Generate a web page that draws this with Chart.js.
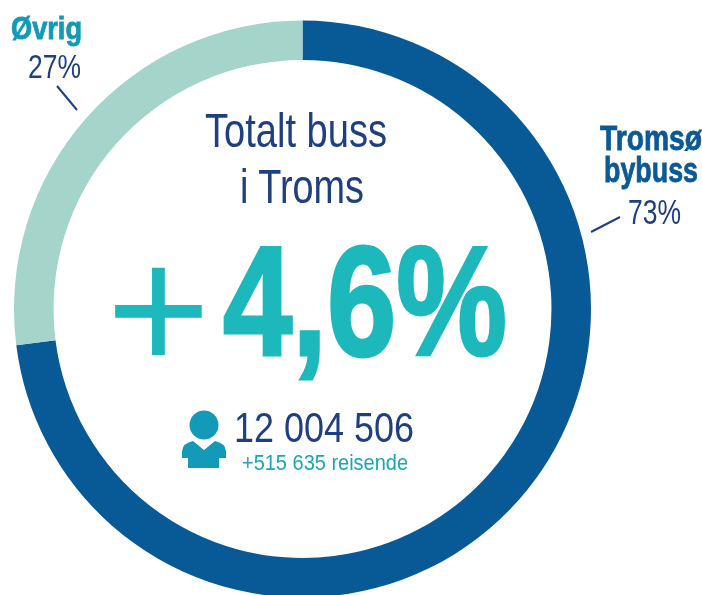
<!DOCTYPE html>
<html lang="no">
<head>
<meta charset="utf-8">
<title>Totalt buss i Troms</title>
<style>
html,body{margin:0;padding:0;width:702px;height:595px;overflow:hidden;background:#fff}
#stage{position:relative;width:702px;height:595px;overflow:hidden}
#wrap{position:absolute;left:0;top:0;width:605px;height:618px}
canvas{display:block}
.t{position:absolute;white-space:nowrap;line-height:1;font-family:"Liberation Sans",Arial,sans-serif;transform-origin:left top}
svg{position:absolute;left:0;top:0}
</style>
</head>
<body>
<div id="stage">
<div id="wrap"><canvas id="c" width="605" height="618"></canvas></div>
<svg width="702" height="595" aria-hidden="true">
<line x1="57" y1="86" x2="77" y2="110" stroke="#1e3f80" stroke-width="2"/>
<line x1="591" y1="232" x2="620" y2="217" stroke="#1e3f80" stroke-width="2"/>
<circle cx="204" cy="425" r="14.5" fill="#129ab8"/>
<path d="M193 441 L204 450 L215 441 Q225 443 226 451 L226 458 L219 458 L219 468 L188 468 L188 458 L182 458 L182 451 Q183 443 193 441 Z" fill="#129ab8"/>
</svg>
</div>
<script src="https://cdn.jsdelivr.net/npm/chart.js@4"></script>
<script>
const categories = ["Tromsø bybuss", "Øvrig"];
const shareValues = [73, 27];
const sliceColors = ["#075a96", "#a4d4ca"];

// text, left, baseline, width, font size, weight, colour, stroke
const textLabels = [
  ["Øvrig", 11, 39, 71, 31, 700, "#129ab8", 0.8],
  ["27%", 28, 78, 53, 34, 400, "#1e3f80", 0],
  ["Tromsø", 600, 150, 102, 35, 700, "#0b5a96", 0.8],
  ["bybuss", 604, 182, 94, 35, 700, "#0b5a96", 0.8],
  ["73%", 628, 224, 53, 35, 400, "#1e3f80", 0],
  ["Totalt buss", 205, 147, 182, 49, 400, "#1e3f80", 0],
  ["i Troms", 240, 203, 124, 49, 400, "#1e3f80", 0],
  ["12 004 506", 234, 442, 180, 43, 400, "#1e3f80", 0],
  ["+515 635 reisende", 242, 471, 166, 22, 400, "#1aa5b8", 0]
];
const headlineSign = "+";
const headlineValue = "4,6%";

new Chart(document.getElementById("c"), {
  type: "doughnut",
  data: {
    labels: categories,
    datasets: [{ data: shareValues, backgroundColor: sliceColors, borderWidth: 0 }]
  },
  options: {
    responsive: false,
    animation: false,
    radius: 288.5,
    cutout: "86.3%",
    rotation: 0,
    circumference: 360,
    layout: { padding: 0 },
    plugins: { legend: { display: false }, tooltip: { enabled: false }, title: { display: false } }
  }
});

const stage = document.getElementById("stage");
function place(parent, text, x, base, w, fs, weight, color, stroke) {
  const el = document.createElement("span");
  el.className = "t";
  el.textContent = text;
  el.style.left = x + "px";
  el.style.top = (base - fs * 0.8465) + "px";
  el.style.fontSize = fs + "px";
  el.style.fontWeight = weight;
  el.style.color = color;
  if (stroke) el.style.webkitTextStroke = stroke + "px " + color;
  parent.appendChild(el);
  const natural = el.getBoundingClientRect().width;
  if (w) el.style.transform = "scaleX(" + (w / natural) + ")";
  return el;
}
textLabels.forEach(l => place(stage, ...l));
const headline = document.createElement("div");
stage.appendChild(headline);
place(headline, headlineSign, 106.5, 372, 0, 178, 400, "#1db8bb", 0);
place(headline, headlineValue, 223, 355, 284, 156, 700, "#1db8bb", 3);
</script>
</body>
</html>
